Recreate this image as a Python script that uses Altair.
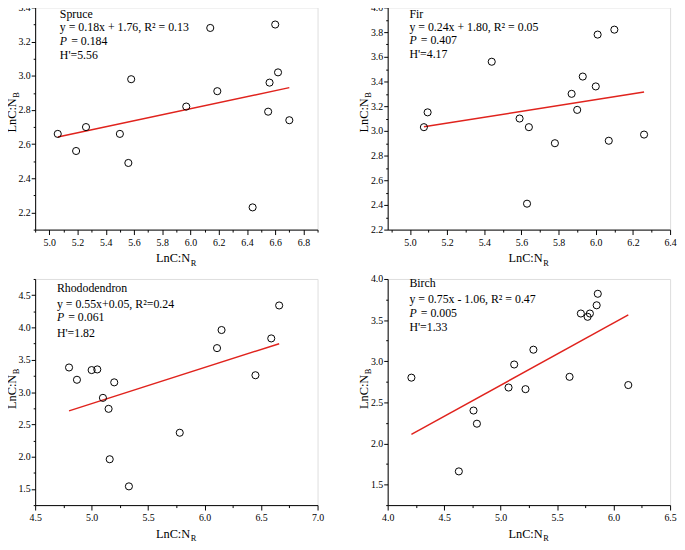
import altair as alt
import pandas as pd

# ---------------- data ----------------
spruce_x = [5.06, 5.19, 5.26, 5.50, 5.56, 5.58, 5.97, 6.14, 6.19, 6.44, 6.55, 6.56, 6.60, 6.62, 6.70]
spruce_y = [2.66, 2.56, 2.70, 2.66, 2.49, 2.98, 2.82, 3.28, 2.91, 2.23, 2.79, 2.96, 3.30, 3.02, 2.74]

fir_x = [5.075, 5.095, 5.44, 5.59, 5.63, 5.64, 5.78, 5.87, 5.90, 5.93, 6.00, 6.01, 6.07, 6.10, 6.26]
fir_y = [3.03, 3.15, 3.56, 3.10, 2.41, 3.03, 2.90, 3.30, 3.17, 3.44, 3.36, 3.78, 2.92, 3.82, 2.97]

rho_x = [4.80, 4.87, 5.00, 5.05, 5.10, 5.15, 5.16, 5.20, 5.33, 5.78, 6.11, 6.15, 6.45, 6.59, 6.66]
rho_y = [3.38, 3.19, 3.34, 3.35, 2.91, 2.74, 1.96, 3.15, 1.54, 2.37, 3.68, 3.96, 3.26, 3.83, 4.34]

birch_x = [4.21, 4.63, 4.76, 4.79, 5.07, 5.12, 5.22, 5.29, 5.61, 5.71, 5.77, 5.79, 5.85, 5.86, 6.13]
birch_y = [2.80, 1.66, 2.40, 2.24, 2.68, 2.96, 2.66, 3.14, 2.81, 3.58, 3.54, 3.58, 3.68, 3.82, 2.71]

# tick positions (major + minor)
spruce_xticks = [4.9, 5.0, 5.1, 5.2, 5.3, 5.4, 5.5, 5.6, 5.7, 5.8, 5.9, 6.0, 6.1, 6.2, 6.3, 6.4, 6.5, 6.6, 6.7, 6.8, 6.9]
spruce_yticks = [2.1, 2.2, 2.3, 2.4, 2.5, 2.6, 2.7, 2.8, 2.9, 3.0, 3.1, 3.2, 3.3, 3.4]
fir_xticks = [4.9, 5.0, 5.1, 5.2, 5.3, 5.4, 5.5, 5.6, 5.7, 5.8, 5.9, 6.0, 6.1, 6.2, 6.3, 6.4]
fir_yticks = [2.2, 2.3, 2.4, 2.5, 2.6, 2.7, 2.8, 2.9, 3.0, 3.1, 3.2, 3.3, 3.4, 3.5, 3.6, 3.7, 3.8, 3.9, 4.0]
rho_xticks = [4.5, 4.75, 5.0, 5.25, 5.5, 5.75, 6.0, 6.25, 6.5, 6.75, 7.0]
rho_yticks = [1.25, 1.5, 1.75, 2.0, 2.25, 2.5, 2.75, 3.0, 3.25, 3.5, 3.75, 4.0, 4.25, 4.5, 4.75]
birch_xticks = [4.0, 4.25, 4.5, 4.75, 5.0, 5.25, 5.5, 5.75, 6.0, 6.25, 6.5]
birch_yticks = [1.25, 1.5, 1.75, 2.0, 2.25, 2.5, 2.75, 3.0, 3.25, 3.5, 3.75, 4.0]

names = ["Spruce", "Fir", "Rhododendron", "Birch"]
equations = ["y = 0.18x + 1.76, R² = 0.13", "y = 0.24x + 1.80, R² = 0.05",
             "y = 0.55x+0.05, R²=0.24", "y = 0.75x - 1.06, R² = 0.47"]
pvals = ["= 0.184", "= 0.407", "= 0.061", "= 0.005"]
hvals = ["H'=5.56", "H'=4.17", "H'=1.82", "H'=1.33"]

W = 286
H_TOP, H_BOT = 225, 229
FONT = "Liberation Serif"
RED = "#e0231d"


def make_axis(values, major, tick, pad):
    test = f"abs(datum.value/{major} - round(datum.value/{major})) < 0.001"
    return alt.Axis(
        values=values,
        title=None,
        grid=False,
        labelExpr=f"{test} ? format(datum.value, '.1f') : ''",
        labelOverlap=False,
        labelFlush=False,
        labelFont=FONT,
        labelFontSize=10,
        labelColor="black",
        labelPadding=pad,
        domainColor="black",
        domainWidth=1,
        tickColor="black",
        tickWidth=1,
        tickSize={"condition": {"test": test, "value": tick}, "value": tick / 2},
    )


def txt(s, x, y, size=12, style="normal", angle=0, align="left", baseline="middle"):
    return alt.Chart(pd.DataFrame({"t": [s]})).mark_text(
        font=FONT, fontSize=size, fontStyle=style, angle=angle,
        align=align, baseline=baseline, color="black"
    ).encode(x=alt.value(x), y=alt.value(y), text="t:N")


def panel(i, xs, ys, xdom, ydom, xticks, yticks, xmaj, ymaj, h, ann_x, ann_ys,
          ytitle_x, ytitle_y):
    df = pd.DataFrame({"x": xs, "y": ys})
    xsc = alt.Scale(domain=xdom, nice=False, zero=False)
    ysc = alt.Scale(domain=ydom, nice=False, zero=False)
    xa = make_axis(xticks, xmaj, 5, 3)
    ya = make_axis(yticks, ymaj, 4, 1)
    enc = dict(x=alt.X("x:Q", scale=xsc, axis=xa), y=alt.Y("y:Q", scale=ysc, axis=ya))
    pts = alt.Chart(df).mark_point(shape="circle", filled=False, color="black",
                                   size=52, strokeWidth=1, opacity=1).encode(**enc)
    line = alt.Chart(df).transform_regression("x", "y").mark_line(
        color=RED, strokeWidth=1.5).encode(**enc)
    layers = [line, pts,
              txt(names[i], ann_x, ann_ys[0]),
              txt(equations[i], ann_x, ann_ys[1]),
              txt("P", ann_x, ann_ys[2], style="italic"),
              txt(pvals[i], ann_x + 11.5, ann_ys[2]),
              txt(hvals[i], ann_x, ann_ys[3]),
              # x-axis title LnC:N_R
              txt("LnC:N", 157, h + 33, size=12.5, align="right", baseline="alphabetic"),
              txt("R", 157.5, h + 36.5, size=8.5, align="left", baseline="alphabetic"),
              # y-axis title LnC:N_B
              txt("LnC:N", ytitle_x, ytitle_y, size=12.5, angle=270, align="right",
                  baseline="alphabetic"),
              txt("B", ytitle_x + 3.5, ytitle_y - 0.5, size=8.5, angle=270, align="left",
                  baseline="alphabetic"),
              ]
    return alt.layer(*layers).properties(width=W, height=h)


p_spruce = panel(0, spruce_x, spruce_y, [4.9, 6.9], [2.1, 3.4], spruce_xticks, spruce_yticks,
                 0.2, 0.2, H_TOP, 25, [6.5, 20, 34, 48], -19.5, 92)
p_fir = panel(1, fir_x, fir_y, [4.88, 6.4], [2.2, 4.0], fir_xticks, fir_yticks,
              0.2, 0.2, H_TOP, 22, [6.5, 19.5, 33, 47], -20, 92)
p_rho = panel(2, rho_x, rho_y, [4.5, 7.0], [1.25, 4.75], rho_xticks, rho_yticks,
              0.5, 0.5, H_BOT, 22, [9, 25, 39, 55], -19.5, 97)
p_birch = panel(3, birch_x, birch_y, [4.0, 6.5], [1.25, 4.0], birch_xticks, birch_yticks,
                0.5, 0.5, H_BOT, 22, [4.5, 20, 34, 49], -20, 97)

chart = alt.concat(p_spruce, p_fir, p_rho, p_birch, columns=2,
                   spacing={"row": 50, "column": 71}, bounds="flush").properties(
    padding={"left": -2.5, "top": -10, "right": 0, "bottom": 0}
).configure_view(stroke=None).configure_axis(
    labelFont=FONT, labelFontSize=10, labelColor="black"
).configure(background="white")

chart.save("out.html", embed_options={"renderer": "svg", "actions": False})
